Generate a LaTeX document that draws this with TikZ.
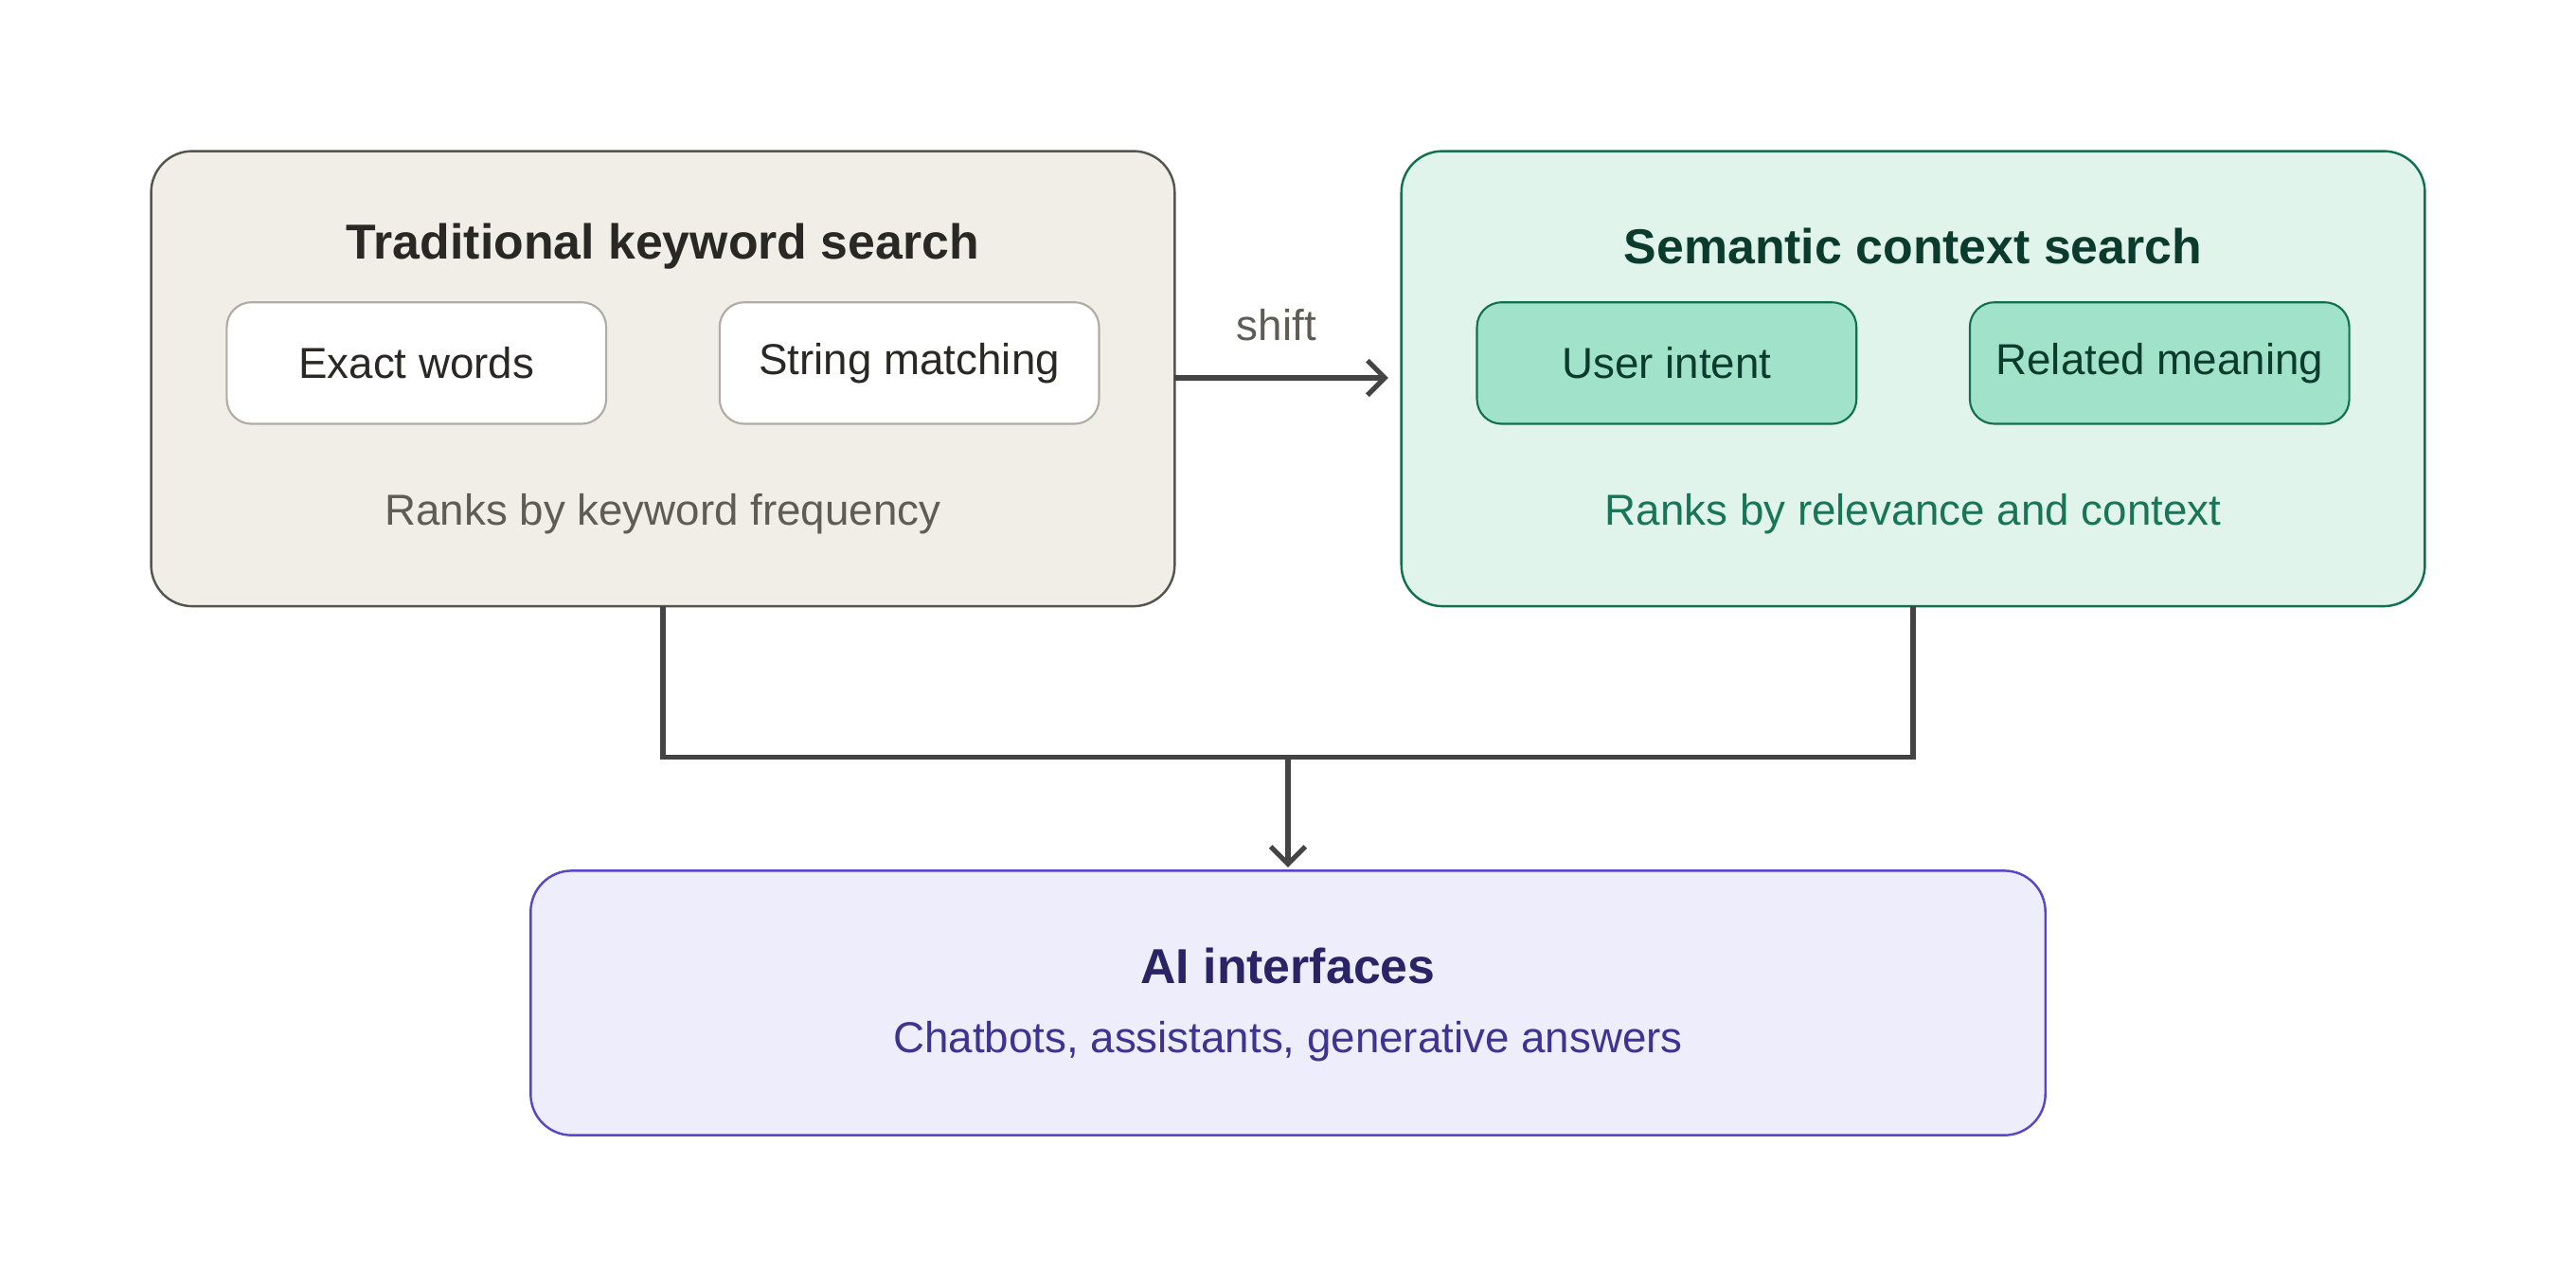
\documentclass[tikz,border=0pt]{standalone}
\usepackage{fontspec}
\setmainfont{Liberation Sans}
\usetikzlibrary{arrows.meta}
\definecolor{lfill}{HTML}{F1EEE8}\definecolor{lbord}{HTML}{55554F}
\definecolor{ibord}{HTML}{B0ACA5}\definecolor{ltxt}{HTML}{2A2824}\definecolor{lrank}{HTML}{5F5B55}
\definecolor{rfill}{HTML}{E1F4EC}\definecolor{rbord}{HTML}{127052}\definecolor{rin}{HTML}{A0E2CA}
\definecolor{rtxt}{HTML}{0B3B2D}\definecolor{rrank}{HTML}{187558}
\definecolor{bfill}{HTML}{EEEDFC}\definecolor{bbord}{HTML}{5A45C8}\definecolor{btxt}{HTML}{2A2366}\definecolor{bsub}{HTML}{3D3391}
\definecolor{conn}{HTML}{444444}
\tikzset{
 box/.style={draw, rounded corners=0.5cm, line width=0.8pt},
 inner/.style={draw, rounded corners=0.3cm, line width=0.7pt, minimum width=4.62cm, minimum height=1.48cm, font=\fontsize{15}{18}\selectfont},
 ttl/.style={font=\fontsize{17}{20}\selectfont\bfseries},
 txt/.style={font=\fontsize{15}{18}\selectfont},
 con/.style={draw=conn, line width=1.7pt},
 arr/.style={con, -{Straight Barb[length=6pt,width=12pt]}}
}
\begin{document}
\begin{tikzpicture}[x=0.02cm,y=-0.02cm]
\useasboundingbox (0,0) rectangle (1568,784);
\draw[box, draw=lbord, fill=lfill] (92,92) rectangle (715,369);
\coordinate (L) at (403.5,369);
\coordinate (Lr) at (715,230);
\node[ttl, text=ltxt] (lt) at (403.5,150) {Traditional keyword search};
\node[inner, draw=ibord, fill=white, text=ltxt] (ew) at (253.5,221) {Exact words};
\node[inner, draw=ibord, fill=white, text=ltxt] (sm) at (553.5,221) {String matching};
\node[txt, text=lrank] (lr) at (403.5,313) {Ranks by keyword frequency};
\draw[box, draw=rbord, fill=rfill] (853,92) rectangle (1476,369);
\coordinate (R) at (1164.5,369);
\coordinate (Rl) at (845,230);
\node[ttl, text=rtxt] (rt) at (1164.5,150) {Semantic context search};
\node[inner, draw=rbord, fill=rin, text=rtxt] (ui) at (1014.5,221) {User intent};
\node[inner, draw=rbord, fill=rin, text=rtxt] (rm) at (1314.5,221) {Related meaning};
\node[txt, text=rrank] (rr) at (1164.5,313) {Ranks by relevance and context};
\draw[box, draw=bbord, fill=bfill] (323,530) rectangle (1245,691);
\coordinate (B) at (784,528);
\node[ttl, text=btxt] (bt) at (784,588) {AI interfaces};
\node[txt, text=bsub] (bs) at (784,634) {Chatbots, assistants, generative answers};
\draw[arr] (Lr) -- (Rl);
\node[txt, text=lrank] (sh) at (777,198) {shift};
\coordinate (J) at (784,461);
\draw[con] (L) |- (J) -| (R);
\draw[arr] (J) -- (B);
\end{tikzpicture}
\end{document}
